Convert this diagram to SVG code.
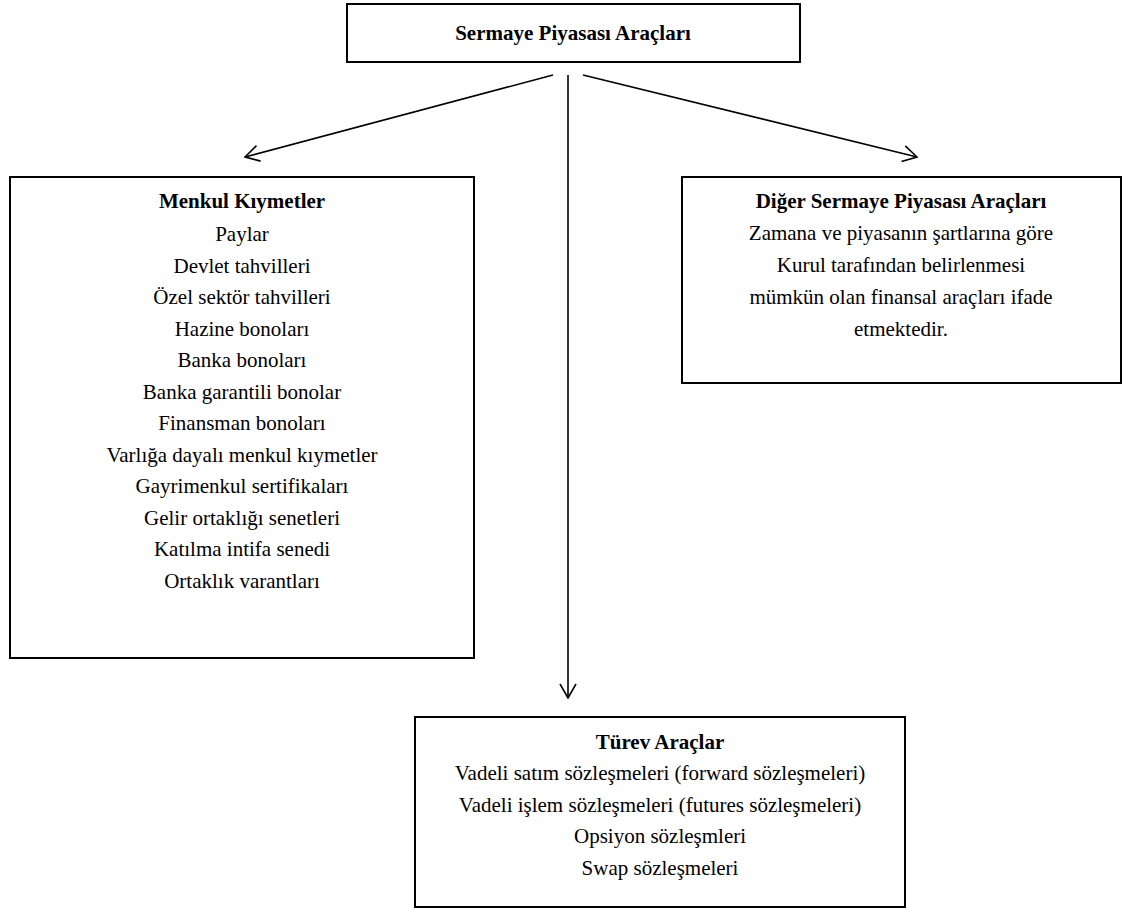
<svg xmlns="http://www.w3.org/2000/svg" width="1132" height="922" viewBox="0 0 1132 922">
<style>
.box{fill:#fff;stroke:#000;stroke-width:2}
.t{font-family:"Liberation Serif","Times New Roman",serif;font-size:21px;fill:#000;text-anchor:middle}
.b{font-weight:bold}
.c{stroke:#000;stroke-width:1.6;fill:none}
</style>
<defs>
<marker id="ah" viewBox="0 0 16 18" refX="15" refY="9" markerWidth="16" markerHeight="18" markerUnits="userSpaceOnUse" orient="auto">
<path d="M1,1 L15,9 L1,17" fill="none" stroke="#000" stroke-width="1.6"/>
</marker>
</defs>
<rect width="1132" height="922" fill="#fff"/>
<g id="connectors">
<line class="c" x1="553" y1="75" x2="245" y2="157" marker-end="url(#ah)"/>
<line class="c" x1="568" y1="75" x2="568" y2="698" marker-end="url(#ah)"/>
<line class="c" x1="583" y1="75" x2="917" y2="157" marker-end="url(#ah)"/>
</g>
<g id="root">
<rect class="box" x="347" y="4" width="453" height="58"/>
<text class="t b" x="573" y="40">Sermaye Piyasası Araçları</text>
</g>
<g id="menkul">
<rect class="box" x="10" y="177" width="464" height="481"/>
<text class="t b" x="242" y="208">Menkul Kıymetler</text>
<text class="t" x="242" y="241">Paylar</text>
<text class="t" x="242" y="273">Devlet tahvilleri</text>
<text class="t" x="242" y="304">Özel sektör tahvilleri</text>
<text class="t" x="242" y="336">Hazine bonoları</text>
<text class="t" x="242" y="367">Banka bonoları</text>
<text class="t" x="242" y="399">Banka garantili bonolar</text>
<text class="t" x="242" y="430">Finansman bonoları</text>
<text class="t" x="242" y="462">Varlığa dayalı menkul kıymetler</text>
<text class="t" x="242" y="493">Gayrimenkul sertifikaları</text>
<text class="t" x="242" y="525">Gelir ortaklığı senetleri</text>
<text class="t" x="242" y="556">Katılma intifa senedi</text>
<text class="t" x="242" y="588">Ortaklık varantları</text>
</g>
<g id="diger">
<rect class="box" x="682" y="177" width="439" height="206"/>
<text class="t b" x="901" y="208">Diğer Sermaye Piyasası Araçları</text>
<text class="t" x="901" y="240">Zamana ve piyasanın şartlarına göre</text>
<text class="t" x="901" y="272">Kurul tarafından belirlenmesi</text>
<text class="t" x="901" y="304">mümkün olan finansal araçları ifade</text>
<text class="t" x="901" y="336">etmektedir.</text>
</g>
<g id="turev">
<rect class="box" x="415" y="717" width="490" height="190"/>
<text class="t b" x="660" y="749">Türev Araçlar</text>
<text class="t" x="660" y="780">Vadeli satım sözleşmeleri (forward sözleşmeleri)</text>
<text class="t" x="660" y="812">Vadeli işlem sözleşmeleri (futures sözleşmeleri)</text>
<text class="t" x="660" y="843">Opsiyon sözleşmleri</text>
<text class="t" x="660" y="875">Swap sözleşmeleri</text>
</g>
</svg>
